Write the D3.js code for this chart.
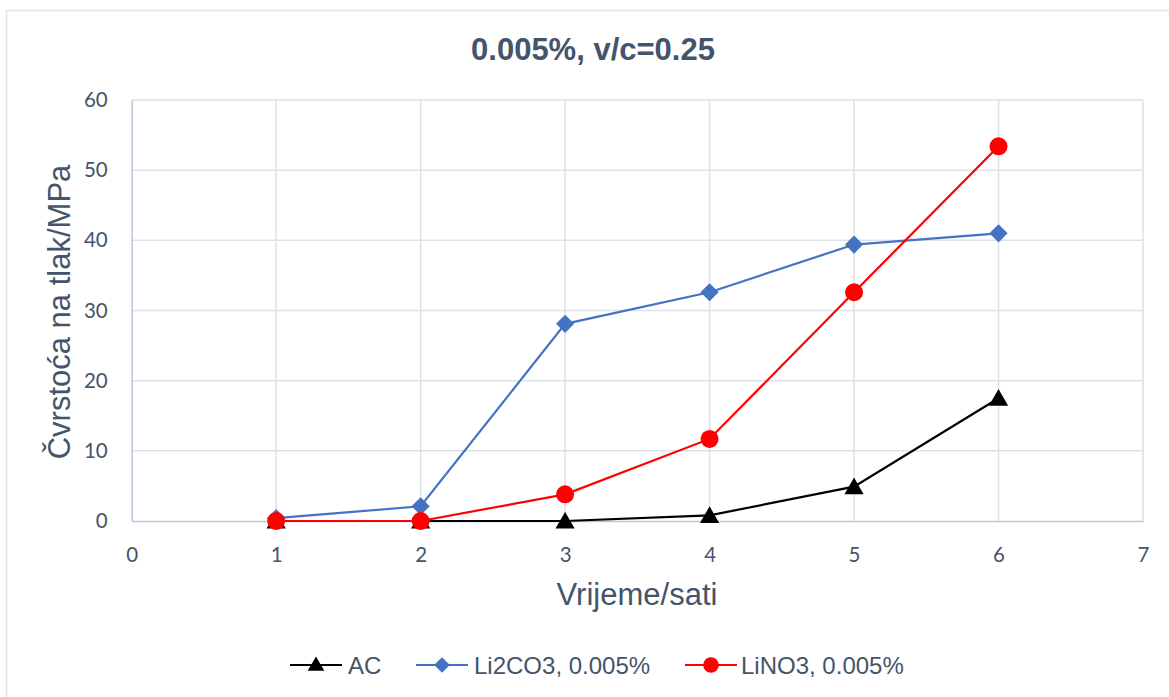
<!DOCTYPE html>
<html>
<head>
<meta charset="utf-8">
<script src="https://cdn.jsdelivr.net/npm/d3@7"></script>
<style>
  html, body { margin: 0; padding: 0; background: #fff; }
  svg { display: block; }
</style>
</head>
<body>
<svg id="chart" width="1169" height="697"></svg>
<script>
const title = "0.005%, v/c=0.25";
const xTitle = "Vrijeme/sati";
const yTitle = "Čvrstoća na tlak/MPa";
const hours = [1, 2, 3, 4, 5, 6];
const xTicks = [0, 1, 2, 3, 4, 5, 6, 7];
const yTicks = [0, 10, 20, 30, 40, 50, 60];
const seriesNames = ["AC", "Li2CO3, 0.005%", "LiNO3, 0.005%"];
const acValues = [0, 0, 0, 0.8, 4.9, 17.5];
const li2co3Values = [0.4, 2.1, 28.1, 32.6, 39.4, 41.0];
const lino3Values = [0, 0, 3.8, 11.7, 32.6, 53.4];
const seriesColors = ["#000000", "#4472c4", "#ff0000"];
const seriesMarkers = ["triangle", "diamond", "circle"];

const textColor = "#44546a";
const svg = d3.select("#chart");

// chart frame
svg.append("rect").attr("x", 6.5).attr("y", 10.5).attr("width", 1200).attr("height", 720)
  .attr("fill", "#fff").attr("stroke", "#dfe3ea").attr("stroke-width", 1.5);

const pLeft = 131.7, pRight = 1143, pTop = 100, pBottom = 521;
const x = d3.scaleLinear().domain([0, 7]).range([pLeft, pRight]);
const y = d3.scaleLinear().domain([0, 60]).range([pBottom, pTop]);

// gridlines
const grid = svg.append("g");
grid.selectAll("line.h").data(yTicks.filter(d => d > 0)).enter().append("line")
  .attr("x1", pLeft).attr("x2", pRight).attr("y1", d => y(d)).attr("y2", d => y(d))
  .attr("stroke", "#dde2ea").attr("stroke-width", 1.5);
grid.selectAll("line.v").data(xTicks.filter(d => d > 0)).enter().append("line")
  .attr("x1", d => x(d)).attr("x2", d => x(d)).attr("y1", pTop).attr("y2", pBottom)
  .attr("stroke", "#dde2ea").attr("stroke-width", 1.5);

// axes
const xAxis = svg.append("g").attr("transform", `translate(0,${pBottom})`)
  .call(d3.axisBottom(x).tickValues(xTicks).tickSize(0).tickPadding(26).tickFormat(d3.format("d")));
const yAxis = svg.append("g").attr("transform", `translate(${pLeft},0)`)
  .call(d3.axisLeft(y).tickValues(yTicks).tickSize(0).tickPadding(24).tickFormat(d3.format("d")));
[xAxis, yAxis].forEach(a => {
  a.select(".domain").attr("stroke", "#bcc6d6").attr("stroke-width", 1.5);
  a.selectAll("text").attr("fill", textColor).attr("font-family", "Lato, 'Open Sans', sans-serif")
    .attr("font-size", 20.5);
});

// titles
svg.append("text").attr("x", 593).attr("y", 60).attr("text-anchor", "middle")
  .attr("font-family", "'Liberation Sans', Arial, sans-serif").attr("font-weight", "bold")
  .attr("font-size", 31).attr("fill", textColor).text(title);
svg.append("text").attr("x", 637).attr("y", 605).attr("text-anchor", "middle")
  .attr("font-family", "'Liberation Sans', Arial, sans-serif")
  .attr("font-size", 31).attr("fill", textColor).text(xTitle);
svg.append("text").attr("transform", "translate(70,312) rotate(-90)").attr("text-anchor", "middle")
  .attr("font-family", "'Liberation Sans', Arial, sans-serif")
  .attr("font-size", 31).attr("fill", textColor).text(yTitle);

const symbolFor = m => m === "triangle" ? d3.symbolTriangle : (m === "diamond" ? d3.symbolSquare : d3.symbolCircle);
const symbolSize = m => m === "triangle" ? 160 : (m === "diamond" ? 165 : 254);
const symbolRot = m => m === "diamond" ? 45 : 0;

const allValues = [acValues, li2co3Values, lino3Values];
const line = d3.line().x(d => x(d[0])).y(d => y(d[1]));

allValues.forEach((vals, i) => {
  const pts = hours.map((h, k) => [h, vals[k]]);
  const g = svg.append("g");
  g.append("path").attr("d", line(pts)).attr("fill", "none")
    .attr("stroke", seriesColors[i]).attr("stroke-width", 2.2);
  g.selectAll("path.m").data(pts).enter().append("path")
    .attr("d", d3.symbol().type(symbolFor(seriesMarkers[i])).size(symbolSize(seriesMarkers[i])))
    .attr("transform", d => `translate(${x(d[0])},${y(d[1]) + (seriesMarkers[i] === "triangle" ? 2 : 0)}) rotate(${symbolRot(seriesMarkers[i])})`)
    .attr("fill", seriesColors[i]);
});

// legend
const legendItems = [
  { x0: 290, tx: 348 },
  { x0: 416, tx: 474 },
  { x0: 685, tx: 741 }
];
const ly = 665;
seriesNames.forEach((name, i) => {
  const it = legendItems[i];
  const g = svg.append("g");
  g.append("line").attr("x1", it.x0).attr("x2", it.x0 + 52).attr("y1", ly).attr("y2", ly)
    .attr("stroke", seriesColors[i]).attr("stroke-width", 2.2);
  const m = seriesMarkers[i];
  g.append("path").attr("d", d3.symbol().type(symbolFor(m)).size(symbolSize(m) * 0.75))
    .attr("transform", `translate(${it.x0 + 26},${ly + (m === "triangle" ? 1 : 0)}) rotate(${symbolRot(m)})`)
    .attr("fill", seriesColors[i]);
  g.append("text").attr("x", it.tx).attr("y", ly + 8.5)
    .attr("font-family", "'Liberation Sans', Arial, sans-serif")
    .attr("font-size", 24).attr("fill", textColor).text(name);
});
</script>
</body>
</html>
